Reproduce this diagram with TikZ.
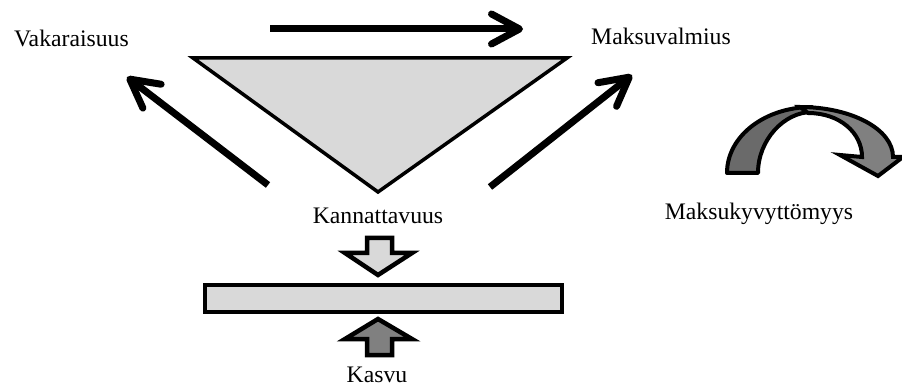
\documentclass[tikz,border=0pt]{standalone}
\usepackage{fontspec}
\setmainfont{Liberation Serif}
\usetikzlibrary{arrows.meta}
\definecolor{lgray}{HTML}{D9D9D9}
\definecolor{mgray}{HTML}{808080}
\definecolor{dgray}{HTML}{6A6A6A}
\tikzset{
  lbl/.style={anchor=base, inner sep=0pt, font=\fontsize{23.7}{28}\selectfont},
  bigarrow/.style={line width=7pt, -{Straight Barb[length=28pt,width=30pt,round]}},
  blockarrow/.style={draw=black, line width=4.5pt, line join=miter},
}
\begin{document}
\begin{tikzpicture}[x=1pt,y=-1pt]
\useasboundingbox (0,0) rectangle (902,387);
% labels
\node[lbl] (vak) at (71.5,47) {Vakaraisuus};
\node[lbl] (mak) at (661,45) {Maksuvalmius};
\node[lbl] (kan) at (378,224) {Kannattavuus};
\node[lbl] (mky) at (759,220) {Maksukyvyttömyys};
\node[lbl] (kas) at (377,382) {Kasvu};
% triangle
\draw[fill=lgray, line width=3.5pt, line join=miter] (193,58) -- (567,58) -- (378,192) -- cycle;
% straight arrows
\coordinate (t1) at (270,29); \coordinate (t2) at (523,29);
\coordinate (l1) at (268,185); \coordinate (l2) at (127,77);
\coordinate (r1) at (490,187); \coordinate (r2) at (632,75);
\draw[bigarrow] (t1) -- (t2);
\draw[bigarrow] (l1) -- (l2);
\draw[bigarrow] (r1) -- (r2);
% block arrows
\draw[blockarrow, fill=lgray] (367,238) -- (392,238) -- (392,253) -- (412,253) -- (378,275) -- (345,253) -- (367,253) -- cycle;
\draw[blockarrow, fill=mgray] (367,355) -- (392,355) -- (392,339) -- (412,339) -- (378,319) -- (345,339) -- (367,339) -- cycle;
% bar
\draw[fill=lgray, line width=4.5pt] (205,285) rectangle (562,312);
% curved arrow
\draw[fill=dgray, line width=4pt, line join=round] (727,173) .. controls (727,136) and (765,107) .. (812,107)
  -- (812,112) .. controls (784,112) and (758,140) .. (758,173) -- cycle;
\draw[fill=mgray, line width=4pt, line join=miter] (800,107) .. controls (851,107) and (893,129) .. (893,157)
  -- (903,157) -- (878,176) -- (840,155) -- (862,157)
  .. controls (862,133) and (840,113) .. (808,113) -- cycle;
\end{tikzpicture}
\end{document}
